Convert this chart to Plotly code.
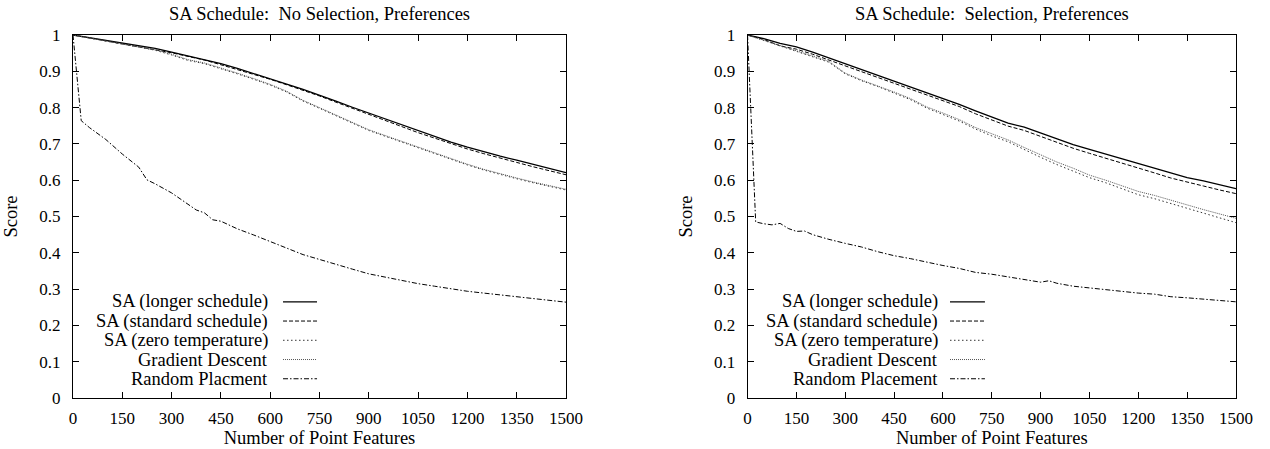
import plotly.graph_objects as go

# ---------------- data ----------------
n_grid = [0, 50, 100, 150, 200, 250, 300, 350, 400, 450, 500, 550, 600, 650, 700, 750,
          800, 850, 900, 950, 1000, 1050, 1100, 1150, 1200, 1250, 1300, 1350, 1400, 1450, 1500]

# Left panel: No Selection, Preferences
left_longer = [1.000, 0.993, 0.985, 0.979, 0.971, 0.963, 0.953, 0.942, 0.933, 0.921, 0.908,
               0.894, 0.881, 0.865, 0.850, 0.835, 0.818, 0.801, 0.785, 0.767, 0.751, 0.736,
               0.720, 0.705, 0.691, 0.678, 0.666, 0.655, 0.643, 0.632, 0.621]
left_standard = [1.000, 0.992, 0.984, 0.977, 0.969, 0.961, 0.951, 0.941, 0.931, 0.918, 0.905,
                 0.892, 0.878, 0.863, 0.848, 0.832, 0.815, 0.798, 0.781, 0.764, 0.747, 0.731,
                 0.716, 0.700, 0.686, 0.673, 0.660, 0.649, 0.637, 0.626, 0.615]
left_zero = [1.000, 0.991, 0.982, 0.975, 0.967, 0.958, 0.945, 0.930, 0.921, 0.908, 0.893,
             0.878, 0.862, 0.843, 0.818, 0.798, 0.778, 0.758, 0.737, 0.721, 0.705, 0.689,
             0.673, 0.657, 0.642, 0.628, 0.615, 0.604, 0.593, 0.583, 0.573]
left_gradient = [1.000, 0.992, 0.983, 0.976, 0.968, 0.959, 0.947, 0.932, 0.923, 0.910, 0.895,
                 0.880, 0.864, 0.845, 0.820, 0.800, 0.780, 0.760, 0.739, 0.723, 0.707, 0.691,
                 0.675, 0.659, 0.644, 0.630, 0.617, 0.606, 0.595, 0.585, 0.575]
left_random_n = [0, 25, 50, 100, 150, 200, 225, 250, 300, 350, 375, 400, 425, 450, 500, 550,
                 600, 650, 700, 750, 800, 850, 900, 950, 1000, 1050, 1100, 1150, 1200, 1250,
                 1300, 1350, 1400, 1450, 1500]
left_random = [1.000, 0.764, 0.745, 0.712, 0.672, 0.636, 0.601, 0.590, 0.565, 0.534, 0.518,
               0.510, 0.491, 0.487, 0.466, 0.449, 0.432, 0.413, 0.395, 0.381, 0.368, 0.355,
               0.342, 0.333, 0.323, 0.315, 0.308, 0.300, 0.294, 0.289, 0.284, 0.280, 0.275,
               0.270, 0.264]

# Right panel: Selection, Preferences
right_longer = [1.000, 0.990, 0.977, 0.967, 0.953, 0.937, 0.921, 0.904, 0.889, 0.874, 0.857,
                0.842, 0.826, 0.809, 0.791, 0.773, 0.757, 0.746, 0.730, 0.712, 0.698, 0.685,
                0.672, 0.660, 0.645, 0.633, 0.619, 0.607, 0.598, 0.587, 0.577]
right_standard = [1.000, 0.988, 0.970, 0.961, 0.947, 0.931, 0.916, 0.899, 0.884, 0.868, 0.851,
                  0.836, 0.820, 0.803, 0.783, 0.765, 0.749, 0.737, 0.720, 0.703, 0.688, 0.674,
                  0.661, 0.648, 0.633, 0.620, 0.606, 0.594, 0.584, 0.573, 0.563]
right_zero = [1.000, 0.985, 0.969, 0.955, 0.941, 0.925, 0.893, 0.874, 0.858, 0.841, 0.822,
              0.799, 0.782, 0.763, 0.741, 0.722, 0.706, 0.684, 0.663, 0.643, 0.626, 0.607,
              0.593, 0.577, 0.560, 0.549, 0.536, 0.522, 0.509, 0.496, 0.483]
right_gradient = [1.000, 0.986, 0.970, 0.956, 0.942, 0.927, 0.895, 0.876, 0.860, 0.843, 0.825,
                  0.802, 0.785, 0.767, 0.745, 0.727, 0.711, 0.690, 0.669, 0.650, 0.633, 0.614,
                  0.600, 0.585, 0.569, 0.558, 0.546, 0.532, 0.519, 0.507, 0.495]
right_random_n = [0, 25, 50, 75, 100, 125, 150, 175, 200, 225, 250, 300, 350, 400, 450, 500,
                  550, 600, 650, 700, 750, 800, 850, 900, 925, 950, 1000, 1050, 1100, 1150,
                  1200, 1250, 1300, 1350, 1400, 1450, 1500]
right_random = [1.000, 0.485, 0.480, 0.477, 0.481, 0.467, 0.459, 0.460, 0.450, 0.443, 0.437,
                0.426, 0.416, 0.403, 0.392, 0.384, 0.374, 0.365, 0.357, 0.346, 0.341, 0.334,
                0.327, 0.319, 0.323, 0.316, 0.308, 0.303, 0.300, 0.294, 0.289, 0.286, 0.279,
                0.276, 0.273, 0.270, 0.265]

titles = ["SA Schedule:\u00a0 No Selection, Preferences", "SA Schedule:\u00a0 Selection, Preferences"]
left_names = ["SA (longer schedule)", "SA (standard schedule)", "SA (zero temperature)",
              "Gradient Descent", "Random Placment"]
right_names = ["SA (longer schedule)", "SA (standard schedule)", "SA (zero temperature)",
               "Gradient Descent", "Random Placement"]
x_ticks = [0, 150, 300, 450, 600, 750, 900, 1050, 1200, 1350, 1500]
y_ticks = [0, 0.1, 0.2, 0.3, 0.4, 0.5, 0.6, 0.7, 0.8, 0.9, 1]
y_ticktext = ["0", "0.1", "0.2", "0.3", "0.4", "0.5", "0.6", "0.7", "0.8", "0.9", "1"]

# ---------------- styles ----------------
FONT = "Liberation Serif, Times New Roman, Times, serif"
TXT = 18.5
TICK = 17
styles = [
    dict(color="black", width=1.3, dash="solid"),
    dict(color="black", width=1.0, dash="4px,2px"),
    dict(color="#333333", width=1.0, dash="1.5px,2.5px"),
    dict(color="#555555", width=1.0, dash="1px,1px"),
    dict(color="black", width=1.0, dash="5px,2px,1.5px,2px"),
]

fig = go.Figure()

panels = [
    ("x", "y", [(n_grid, left_longer), (n_grid, left_standard), (n_grid, left_zero),
                (n_grid, left_gradient), (left_random_n, left_random)], left_names),
    ("x2", "y2", [(n_grid, right_longer), (n_grid, right_standard), (n_grid, right_zero),
                  (n_grid, right_gradient), (right_random_n, right_random)], right_names),
]

for xa, ya, series, names in panels:
    for (xs, ys), st, nm in zip(series, styles, names):
        fig.add_trace(go.Scatter(x=xs, y=ys, mode="lines", name=nm, xaxis=xa, yaxis=ya,
                                 line=st, showlegend=False, hoverinfo="x+y+name"))

axis_common = dict(
    showline=True, linecolor="black", linewidth=1, mirror="ticks",
    ticks="inside", ticklen=6, tickcolor="black", tickwidth=1,
    showgrid=False, zeroline=False, automargin=False,
    tickfont=dict(family=FONT, size=TICK, color="black"),
)

fig.update_layout(
    width=1270, height=449,
    margin=dict(l=73, r=34, t=35, b=51),
    paper_bgcolor="white", plot_bgcolor="white",
    font=dict(family=FONT, size=TXT, color="black"),
    showlegend=False,
    xaxis=dict(domain=[0, 0.4239], range=[0, 1500], tickvals=x_ticks, anchor="y",
               title=dict(text="Number of Point Features", standoff=2,
                          font=dict(family=FONT, size=TXT)),
               ticklabelstandoff=5, **axis_common),
    yaxis=dict(domain=[0, 1], range=[0, 1], tickvals=y_ticks, ticktext=y_ticktext, anchor="x",
               title=dict(text="Score", standoff=16, font=dict(family=FONT, size=TXT)),
               ticklabelstandoff=8, **axis_common),
    xaxis2=dict(domain=[0.58, 1], range=[0, 1500], tickvals=x_ticks, anchor="y2",
                title=dict(text="Number of Point Features", standoff=2,
                           font=dict(family=FONT, size=TXT)),
                ticklabelstandoff=5, **axis_common),
    yaxis2=dict(domain=[0, 1], range=[0, 1], tickvals=y_ticks, ticktext=y_ticktext, anchor="x2",
                title=dict(text="Score", standoff=16, font=dict(family=FONT, size=TXT)),
                ticklabelstandoff=8, **axis_common),
)

# titles
for xd, t in zip(["x domain", "x2 domain"], titles):
    fig.add_annotation(text=t, xref=xd, yref="paper", x=0.5, y=1, yshift=21,
                       xanchor="center", yanchor="middle", showarrow=False,
                       font=dict(family=FONT, size=TXT, color="black"))

# custom legends (text right-aligned, sample line on the right)
legend_rows = [0.265, 0.212, 0.159, 0.106, 0.053]
legend_geo = [("x domain", "y domain", 0.399, 0.426, 0.495, left_names),
              ("x2 domain", "y2 domain", 0.394, 0.4145, 0.486, right_names)]
for xr, yr, tx, l0, l1, names in legend_geo:
    for yy, nm, st in zip(legend_rows, names, styles):
        fig.add_annotation(text=nm, xref=xr, yref=yr, x=tx, y=yy, xanchor="right",
                           yanchor="middle", showarrow=False,
                           font=dict(family=FONT, size=TXT, color="black"))
        fig.add_shape(type="line", xref=xr, yref=yr, x0=l0, x1=l1, y0=yy, y1=yy,
                      line=dict(color=st["color"], width=st["width"], dash=st["dash"]))

fig.write_html("out.html", config={"displayModeBar": False},
               post_script="document.body.style.margin='0';")
